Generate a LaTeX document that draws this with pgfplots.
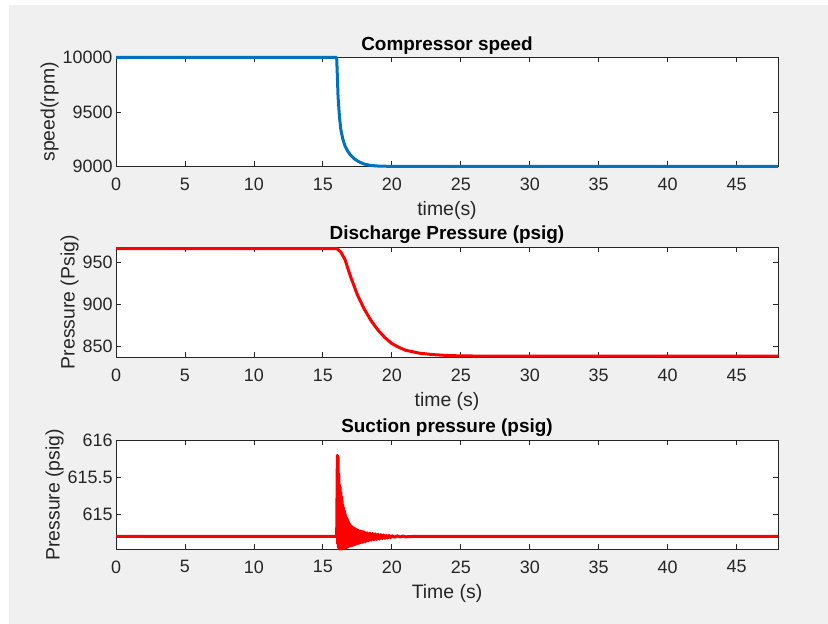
\documentclass[border=0pt]{standalone}
\usepackage{fontspec}
\setmainfont{Liberation Sans}
\usepackage{pgfplots}
\pgfplotsset{compat=1.18}
\definecolor{bggray}{HTML}{F0F0F0}
\definecolor{axgray}{HTML}{262626}
\definecolor{mblue}{HTML}{0072BD}
\definecolor{mred}{HTML}{FF0000}
\pgfplotsset{
  mat/.style={
    scale only axis, width=662bp,
    xmin=0, xmax=48,
    xtick={0,5,10,15,20,25,30,35,40,45},
    xticklabels={0,5,10,15,20,25,30,35,40,45},
    tick align=inside, major tick length=5bp,
    axis line style={draw=axgray, line width=0.8bp},
    every tick/.style={draw=axgray, line width=0.8bp},
    tick label style={font=\fontsize{18}{20}\selectfont, text=axgray},
    xticklabel style={yshift=-8bp},
    label style={font=\fontsize{19.5}{22}\selectfont, text=axgray},
    xlabel style={yshift=-4bp},
    ylabel shift=-3bp,
    title style={font=\fontsize{19}{22}\selectfont\bfseries, text=black, yshift=-6bp},
    axis background/.style={fill=white},
    clip=false,
    scaled ticks=false,
    every axis plot/.append style={line width=3bp, line join=round},
  }
}
\begin{document}
\begin{tikzpicture}[x=1bp,y=1bp]
\fill[white] (0,0) rectangle (828,624);
\fill[bggray] (9,0) rectangle (828,619);

% Top: compressor speed
\begin{axis}[mat, at={(116bp,457.5bp)}, anchor=south west, height=109bp,
  ymin=9000, ymax=10000, ytick={9000,9500,10000},
  yticklabels={9000,9500,10000},
  title={Compressor speed}, xlabel={time(s)}, ylabel={speed(rpm)}]
\addplot[mblue, no marks] coordinates {
(0,10000) (16.0,10000) (16.05,9830) (16.1,9640) (16.2,9460) (16.3,9340)
(16.45,9250) (16.6,9190) (16.8,9140) (17.0,9105) (17.3,9068) (17.6,9044)
(18.0,9022) (18.5,9009) (19.0,9004) (20.0,9001) (21.0,9000) (48,9000)
};
\end{axis}

% Middle: discharge pressure
\begin{axis}[mat, at={(116bp,266.5bp)}, anchor=south west, height=110.5bp,
  ymin=836.4, ymax=967.9, ytick={850,900,950},
  yticklabels={850,900,950},
  title={Discharge Pressure (psig)}, xlabel={time (s)}, ylabel={Pressure (Psig)}]
\addplot[mred, no marks] coordinates {
(0,966) (16.0,966) (16.3,962) (16.6,953) (17.0,933) (17.5,911) (18.0,894)
(18.5,880) (19.0,869) (19.5,860) (20.0,853) (20.5,848.5) (21.0,845)
(22.0,841.5) (23.0,839.8) (24.0,838.8) (25.0,838.3) (27.0,838) (48,838)
};
\end{axis}

% Bottom: suction pressure
\begin{axis}[mat, at={(116bp,75bp)}, anchor=south west, height=108.5bp,
  ymin=614.53, ymax=616, ytick={615,615.5,616},
  yticklabels={615,615.5,616},
  title={Suction pressure (psig)}, xlabel={Time (s)}, ylabel={Pressure (psig)}]
\addplot[mred, no marks] coordinates {
(0,614.70) (16.00,614.70) (16.05,615.80)
(16.075,614.60) (16.10,615.78) (16.125,614.55) (16.15,615.55)
(16.175,614.53) (16.20,615.40) (16.225,614.53) (16.25,615.37)
(16.275,614.53) (16.30,615.30) (16.325,614.53) (16.35,615.24)
(16.375,614.53) (16.40,615.18) (16.425,614.535) (16.45,615.13)
(16.475,614.535) (16.50,615.09) (16.525,614.54) (16.55,615.05)
(16.575,614.54) (16.60,615.02) (16.625,614.545) (16.65,614.99)
(16.675,614.55) (16.70,614.96) (16.725,614.55) (16.75,614.94)
(16.775,614.555) (16.80,614.92) (16.825,614.56) (16.85,614.90)
(16.875,614.565) (16.90,614.88) (16.925,614.57) (16.95,614.865)
(16.975,614.57) (17.00,614.85)
(17.05,614.575) (17.10,614.835) (17.15,614.58) (17.20,614.82)
(17.25,614.585) (17.30,614.81) (17.35,614.59) (17.40,614.80)
(17.45,614.60) (17.50,614.79) (17.55,614.605) (17.60,614.78)
(17.65,614.61) (17.70,614.775) (17.75,614.615) (17.80,614.77)
(17.85,614.62) (17.90,614.765) (17.95,614.625) (18.00,614.76)
(18.1,614.63) (18.2,614.75) (18.3,614.64) (18.4,614.745)
(18.5,614.65) (18.6,614.74) (18.7,614.655) (18.8,614.735)
(18.9,614.66) (19.0,614.73) (19.1,614.665) (19.2,614.725)
(19.3,614.67) (19.4,614.72) (19.5,614.675) (19.6,614.715)
(19.7,614.68) (19.8,614.712) (19.9,614.685) (20.0,614.71)
(20.2,614.69) (20.4,614.708) (20.6,614.692) (20.8,614.705)
(21.0,614.695) (21.5,614.70) (48,614.70)
};
\end{axis}
\end{tikzpicture}
\end{document}
